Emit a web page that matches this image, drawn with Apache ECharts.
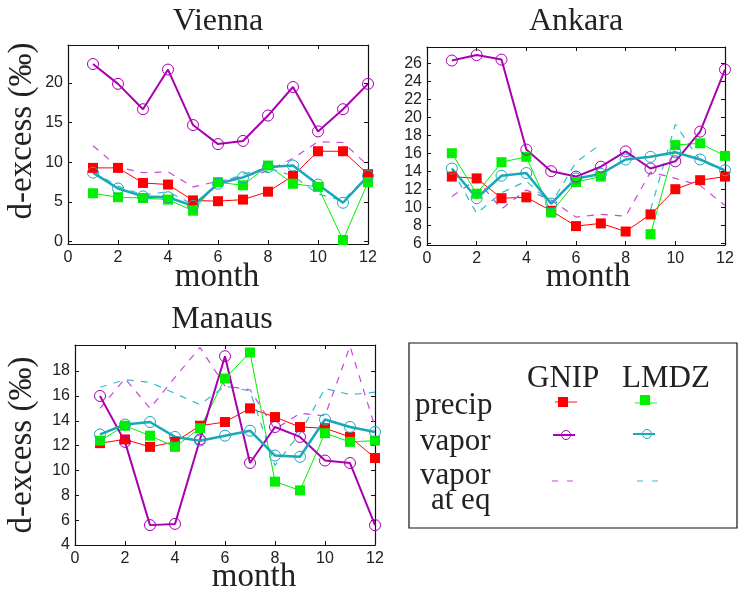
<!DOCTYPE html>
<html><head><meta charset="utf-8">
<script src="https://cdn.jsdelivr.net/npm/echarts@6/dist/echarts.min.js"></script>
<style>html,body{margin:0;padding:0;background:#fff}#c{width:748px;height:589px}</style>
</head><body><div id="c"></div><script>
const months = [1,2,3,4,5,6,7,8,9,10,11,12];
const xTicks = [0,2,4,6,8,10,12];

// Vienna
const vieGnipPrecip = [9.3, 9.3, 7.4, 7.2, 5.2, 5.1, 5.3, 6.3, 8.3, 11.4, 11.4, 8.5];
const vieLmdzPrecip = [6.1, 5.6, 5.5, 5.3, 3.9, 7.5, 7.1, 9.6, 7.3, 6.9, 0.2, 7.5];
const vieGnipVapor  = [22.4, 19.9, 16.7, 21.7, 14.7, 12.3, 12.7, 15.9, 19.5, 13.9, 16.7, 19.9];
const vieLmdzVapor  = [8.7, 6.7, 5.7, 5.6, 4.5, 7.3, 8.1, 9.4, 9.6, 7.2, 4.9, 8.3];
const vieGnipEq     = [12.1, 9.4, 8.7, 8.8, 6.9, 7.6, 8.2, 8.9, 10.5, 12.6, 12.5, 9.6];
const vieLmdzEq     = [8.8, 7.0, 5.9, 6.3, 4.7, 7.3, 8.5, 9.3, 8.3, 6.0, 5.2, 8.3];
const vieYTicks = [0, 5, 10, 15, 20];

// Ankara
const ankGnipPrecip = [13.4, 13.2, 11.0, 11.1, 9.6, 7.9, 8.2, 7.3, 9.2, 12.0, 13.0, 13.4];
const ankLmdzPrecip = [16.0, 11.5, 15.0, 15.6, 9.4, 12.8, 13.4, null, 7.0, 16.9, 17.1, 15.7];
const ankGnipVapor  = [26.3, 26.9, 26.4, 16.4, 14.0, 13.4, 14.5, 16.2, 14.3, 15.1, 18.4, 25.3];
const ankLmdzVapor  = [14.3, 11.0, 13.5, 13.8, 10.4, 13.2, 13.7, 15.3, 15.6, 16.1, 15.3, 14.1];
const ankGnipEq     = [11.2, 13.1, 9.8, 11.9, 10.8, 8.9, 9.2, 9.0, 13.9, 13.2, 12.4, 10.2];
const ankLmdzEq     = [14.2, 9.3, 11.6, 12.9, 10.4, 15.0, 17.0, null, 9.7, 19.2, 15.2, 14.0];
const ankYTicks = [6, 8, 10, 12, 14, 16, 18, 20, 22, 24, 26];

// Manaus
const manGnipPrecip = [12.2, 12.5, 11.9, 12.3, 13.6, 13.9, 15.0, 14.3, 13.5, 13.4, 12.7, 11.0];
const manLmdzPrecip = [12.4, 13.6, 12.8, 11.9, 13.4, 17.4, 19.5, 9.1, 8.4, 13.0, 12.3, 12.4];
const manGnipVapor  = [16.0, 12.3, 5.6, 5.7, 12.5, 19.2, 10.6, 13.5, 12.7, 10.8, 10.6, 5.6];
const manLmdzVapor  = [12.9, 13.7, 13.9, 12.7, 12.4, 12.8, 13.2, 11.2, 11.1, 14.1, 13.5, 13.1];
const manGnipEq     = [15.0, 17.4, 15.0, 17.5, 19.9, 16.8, 16.5, 13.3, 14.6, 14.4, 20.0, 13.5];
const manLmdzEq     = [16.7, 17.3, 17.1, 16.2, 15.3, 16.8, 16.4, 10.4, 13.0, 16.6, 16.1, 16.3];
const manYTicks = [4, 6, 8, 10, 12, 14, 16, 18];

const C = {red:'#ff0000', green:'#00f000', purple:'#a800b0', cyan:'#1aa8b8', purpleD:'#c848d8', cyanD:'#30bccc'};
const styles = [
  {key:'gp', line:{color:C.red, width:1}, symbol:'rect', size:10, fill:C.red, border:C.red, bw:0},
  {key:'lp', line:{color:C.green, width:1}, symbol:'rect', size:10, fill:C.green, border:C.green, bw:0},
  {key:'ge', line:{color:C.purpleD, width:1.2, type:[7,7]}, symbol:'none'},
  {key:'le', line:{color:C.cyanD, width:1.2, type:[7,7]}, symbol:'none'},
  {key:'gv', line:{color:C.purple, width:2}, symbol:'circle', size:11, fill:'rgba(0,0,0,0)', border:C.purple, bw:1},
  {key:'lv', line:{color:C.cyan, width:2.5}, symbol:'circle', size:11, fill:'rgba(0,0,0,0)', border:C.cyan, bw:1}
];

const panels = [
  {grid:{left:68, top:45, width:300, height:199}, ymin:-0.3, ymax:24.8, yticks:vieYTicks,
   d:{gp:vieGnipPrecip, lp:vieLmdzPrecip, gv:vieGnipVapor, lv:vieLmdzVapor, ge:vieGnipEq, le:vieLmdzEq}},
  {grid:{left:427, top:47, width:298, height:198}, ymin:5.8, ymax:27.8, yticks:ankYTicks,
   d:{gp:ankGnipPrecip, lp:ankLmdzPrecip, gv:ankGnipVapor, lv:ankLmdzVapor, ge:ankGnipEq, le:ankLmdzEq}},
  {grid:{left:75, top:345, width:300, height:200}, ymin:4, ymax:20.1, yticks:manYTicks,
   d:{gp:manGnipPrecip, lp:manLmdzPrecip, gv:manGnipVapor, lv:manLmdzVapor, ge:manGnipEq, le:manLmdzEq}}
];

const labelFont = {fontFamily:'Liberation Sans', fontSize:16, color:'#222'};
const axisLine = {show:true, onZero:false, lineStyle:{color:'#111', width:1.2}};
const grids = [], xAxes = [], yAxes = [], series = [];
panels.forEach((p, i) => {
  grids.push(Object.assign({containLabel:false}, p.grid));
  xAxes[i] = {type:'value', gridIndex:i, position:'bottom', min:0, max:12, interval:2,
    axisLine, splitLine:{show:false},
    axisTick:{show:true, inside:true, length:4, lineStyle:{color:'#111'}},
    axisLabel:Object.assign({margin:6, customValues:xTicks}, labelFont)};
  xAxes[i+3] = {type:'value', gridIndex:i, position:'top', min:0, max:12, interval:2,
    axisLine, splitLine:{show:false},
    axisTick:{show:true, inside:true, length:4, lineStyle:{color:'#111'}},
    axisLabel:{show:false}};
  yAxes[i] = {type:'value', gridIndex:i, position:'left', min:p.ymin, max:p.ymax,
    axisLine, splitLine:{show:false},
    axisTick:{show:true, inside:true, length:4, customValues:p.yticks, lineStyle:{color:'#111'}},
    axisLabel:Object.assign({margin:5, customValues:p.yticks}, labelFont)};
  yAxes[i+3] = {type:'value', gridIndex:i, position:'right', min:p.ymin, max:p.ymax,
    axisLine, splitLine:{show:false},
    axisTick:{show:true, inside:true, length:4, customValues:p.yticks, lineStyle:{color:'#111'}},
    axisLabel:{show:false}};
  styles.forEach(s => {
    const vals = p.d[s.key];
    series.push({
      type:'line', xAxisIndex:i, yAxisIndex:i,
      data: months.map((m, k) => [m, vals[k] == null ? '-' : vals[k]]),
      symbol:s.symbol, symbolSize:s.size, showSymbol:s.symbol !== 'none',
      lineStyle:s.line,
      itemStyle:{color:s.fill || s.line.color, borderColor:s.border || s.line.color, borderWidth:s.bw || 0},
      connectNulls:false, silent:true, animation:false, z:2
    });
  });
});

const serif = 'Liberation Serif';
// y given as baseline; converted to top position (cap/ascender offset ~0.72em)
function txt(x, baseline, text, size, align) {
  return {type:'text', x, y:baseline - Math.round(size * 0.72), silent:true,
    style:{text, fontFamily:serif, fontSize:size, fill:'#222', textAlign:align || 'center', textVerticalAlign:'top'}};
}
const graphic = [
  txt(218, 29, 'Vienna', 32),
  txt(576, 29, 'Ankara', 32),
  txt(222, 327, 'Manaus', 32),
  txt(217, 285, 'month', 33),
  txt(588, 285, 'month', 33),
  txt(254, 585, 'month', 33),
  {type:'text', x:22, y:131, rotation:Math.PI/2, silent:true,
   style:{text:'d-excess (‰)', fontFamily:serif, fontSize:33, fill:'#222', textAlign:'center', textVerticalAlign:'middle'}},
  {type:'text', x:22, y:445, rotation:Math.PI/2, silent:true,
   style:{text:'d-excess (‰)', fontFamily:serif, fontSize:33, fill:'#222', textAlign:'center', textVerticalAlign:'middle'}},
  // legend box
  {type:'rect', shape:{x:409, y:343, width:328, height:185}, style:{fill:'#fff', stroke:'#111', lineWidth:1.2}, z:-1},
  txt(527, 385, 'GNIP', 31, 'left'),
  txt(622, 385, 'LMDZ', 31, 'left'),
  txt(415, 412, 'precip', 31, 'left'),
  txt(420, 448, 'vapor', 31, 'left'),
  txt(420, 482, 'vapor', 31, 'left'),
  txt(431, 507, 'at eq', 31, 'left'),
  {type:'line', shape:{x1:555, y1:402, x2:577, y2:402}, style:{stroke:'#ff6060', lineWidth:1.5}},
  {type:'rect', shape:{x:558, y:397, width:10, height:10}, style:{fill:C.red}},
  {type:'line', shape:{x1:635, y1:403, x2:657, y2:403}, style:{stroke:'#60ff60', lineWidth:1.5}},
  {type:'rect', shape:{x:640, y:395, width:10, height:10}, style:{fill:C.green}},
  {type:'line', shape:{x1:553, y1:435, x2:575, y2:435}, style:{stroke:C.purple, lineWidth:2}},
  {type:'circle', shape:{cx:566, cy:435, r:4.5}, style:{fill:'none', stroke:C.purple, lineWidth:1}},
  {type:'line', shape:{x1:633, y1:434, x2:655, y2:434}, style:{stroke:C.cyan, lineWidth:2}},
  {type:'circle', shape:{cx:647, cy:434, r:4.5}, style:{fill:'none', stroke:C.cyan, lineWidth:1}},
  {type:'line', shape:{x1:552, y1:481, x2:574, y2:481}, style:{stroke:C.purpleD, lineWidth:1.2, lineDash:[6,9]}},
  {type:'line', shape:{x1:637, y1:481, x2:659, y2:481}, style:{stroke:C.cyanD, lineWidth:1.2, lineDash:[6,9]}}
];

const chart = echarts.init(document.getElementById('c'), null, {renderer:'canvas'});
chart.setOption({animation:false, backgroundColor:'#fff', grid:grids, xAxis:xAxes, yAxis:yAxes, series, graphic});
</script></body></html>
